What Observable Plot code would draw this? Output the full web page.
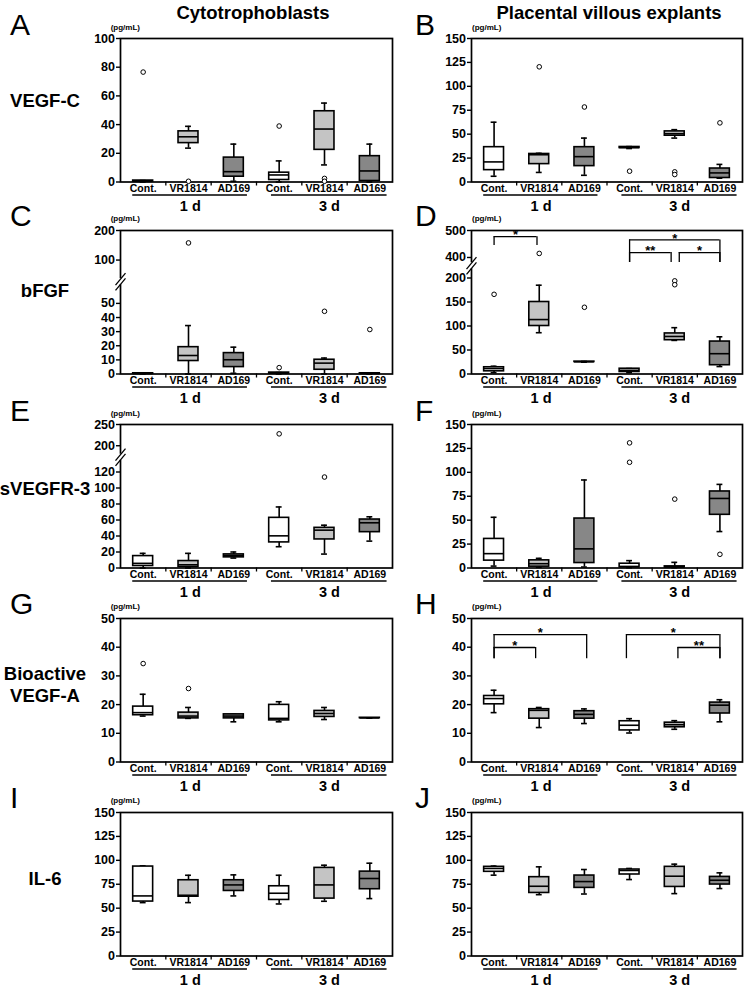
<!DOCTYPE html>
<html>
<head>
<meta charset="utf-8">
<script src="https://cdn.jsdelivr.net/npm/d3@7"></script>
<script src="https://cdn.jsdelivr.net/npm/@observablehq/plot@0.6"></script>
<style>
html,body{margin:0;padding:0;background:#fff;}
#root{position:relative;width:750px;height:988px;overflow:hidden;font-family:"Liberation Sans",Arial,Helvetica,sans-serif;}
#root > svg{position:absolute;}
</style>
</head>
<body>
<div id="root"></div>
<script>
// ---------- categories ----------
const treatments = ["Cont.", "VR1814", "AD169"];
const days = ["1 d", "3 d"];
const colTitles = ["Cytotrophoblasts", "Placental villous explants"];
const rowLabels = [["VEGF-C"], ["bFGF"], ["sVEGFR-3"], ["Bioactive", "VEGF-A"], ["IL-6"]];
const panelLetters = ["A", "B", "C", "D", "E", "F", "G", "H", "I", "J"];
const unitLabel = "(pg/mL)";
const FILL = {"Cont.": "#ffffff", "VR1814": "#c4c4c4", "AD169": "#878787"};

// ---------- box statistics: [lowWhisker, Q1, median, Q3, highWhisker] per group ----------
// order: Cont.1d, VR1814 1d, AD169 1d, Cont.3d, VR1814 3d, AD169 3d
const A_stats = [[0,0.3,0.5,1,1],[23.6,27.1,31.5,35.3,38.8],[0.5,3.7,7.2,17,26.4],[0,1.4,4.9,6.5,14.7],[11.9,22.4,36.9,49.3,55],[0,0.7,7.7,18,26.4]];
const A_out = [[76.6],[0.5],[],[39],[2.5,0.5],[]];
const B_stats = [[6,12.4,21,36.4,62.5],[10,18.7,28.5,29.3,30],[7,16.6,26.5,36.4,45.9],[35,35.5,36,36.6,37],[45.9,48.4,50.5,52.9,54.7],[4,4.2,9.5,14.1,18.4]];
const B_out = [[],[120.4],[78.4],[11.3],[10.6,7.8],[61.8]];
const C_stats = [[0,0.2,0.3,0.5,0.5],[0,9.2,13.1,19,34.3],[0.5,4.9,10.1,14.8,19],[0,0.4,0.6,1,1],[0,3,7.7,10.1,11.3],[0,0.2,0.3,0.5,0.5]];
const C_out = [[],[158],[],[4.5],[44.4],[31.5]];
const D_stats = [[2.8,5.6,11.3,14,16.2],[86,100,113.4,150,185],[24.6,25,25.4,25.8,26.2],[2.8,4.2,7.7,11,11.3],[70,70.4,78.2,84.5,96.5],[15.5,18.3,42.3,67.6,77.5]];
const D_out = [[166],[415],[139],[],[194,186],[]];
const E_stats = [[0,2.5,5.8,14.9,18.3],[0,1.2,4,8.7,18.3],[12.4,13.3,15.4,17,20],[26.6,32,40.2,62.7,76.3],[17.4,35.7,47.3,50.2,53.5],[33.6,44.8,56.5,60.6,64]];
const E_out = [[],[],[],[228],[113.7],[]];
const F_stats = [[2,7.7,15,30.4,53],[0.7,1.4,4.5,8,10.1],[1,5.2,20,51.7,92],[0.3,1,1.4,4.5,7.7],[0.3,0.7,1,1.7,5.9],[38.1,55.6,72.7,80,87.4]];
const F_out = [[],[],[],[130.8,110.5],[72],[14.3]];
const G_stats = [[16,16.3,17.2,19.3,23.6],[15.2,15.2,16,17.2,19],[14,15.2,16,16.6,16.6],[14,14.5,15.2,19.9,21],[14.8,15.7,16.9,17.8,19],[15.3,15.3,15.35,15.4,15.4]];
const G_out = [[34.3],[25.6],[],[],[],[]];
const H_stats = [[17.2,20.1,22.1,23,25],[12,15.1,18,18.4,19],[13.4,15.1,16.6,17.7,18.5],[10.1,11,12.8,14.2,15.1],[11.4,12.1,13,13.7,14.4],[14,16.9,19.8,20.7,21.7]];
const H_out = [[],[],[],[],[],[]];
const I_stats = [[55.8,56.9,62.8,93.5,94.2],[55.8,62,63.5,79.2,84.4],[62.8,68,74.3,79.2,84.8],[54.4,58.6,65.6,72.9,84.4],[57.2,60,74.3,92.1,94.9],[60,69.8,81,88.2,97]];
const I_out = [[],[],[],[],[],[]];
const J_stats = [[84.5,88,91.5,93.2,94],[64.1,65.9,72.9,82.4,93.2],[64.8,71.2,77.8,84.1,90.4],[79.9,85.2,89.4,90.4,91.5],[65.2,72.2,83.4,93.2,96],[70.5,74.7,79.2,82.7,86.9]];
const J_out = [[],[],[],[],[],[]];

// ---------- y tick labels ----------
const A_ticks = [0,20,40,60,80,100];
const B_ticks = [0,25,50,75,100,125,150];
const C_ticks = [0,10,20,30,40,50,100,200];
const D_ticks = [0,50,100,150,200,400,500];
const E_ticks = [0,20,40,60,80,100,120,200,250];
const F_ticks = [0,25,50,75,100,125,150];
const G_ticks = [0,10,20,30,40,50];
const H_ticks = [0,10,20,30,40,50];
const I_ticks = [0,25,50,75,100,125,150];
const J_ticks = [0,25,50,75,100,125,150];

// ---------- significance brackets (group index from/to, bracket level, leg end, label) ----------
const D_sig = [
  {a: 0, b: 0.95, y: 477, leg: 444, s: "*"},
  {a: 3, b: 5, y: 465, leg: 351, s: "*"},
  {a: 3, b: 3.92, y: 418, leg: 351, s: "**"},
  {a: 4.1, b: 5, y: 418, leg: 351, s: "*"}
];
const H_sig = [
  {a: 0, b: 0.92, y: 39.9, leg: 36, s: "*"},
  {a: 0, b: 2.05, y: 44.4, leg: 36, s: "*"},
  {a: 2.93, b: 5, y: 44.4, leg: 36, s: "*"},
  {a: 4.07, b: 5, y: 39.9, leg: 36, s: "**"}
];

const panels = [
  {stats: A_stats, out: A_out, ticks: A_ticks, domain: [0,100]},
  {stats: B_stats, out: B_out, ticks: B_ticks, domain: [0,150]},
  {stats: C_stats, out: C_out, ticks: C_ticks, domain: [0,50,100,200], fracs: [0,0.492,0.794,1], brk: 75},
  {stats: D_stats, out: D_out, ticks: D_ticks, domain: [0,200,400,500], fracs: [0,0.669,0.812,1], brk: 319, sig: D_sig},
  {stats: E_stats, out: E_out, ticks: E_ticks, domain: [0,120,200,250], fracs: [0,0.669,0.852,1], brk: 165},
  {stats: F_stats, out: F_out, ticks: F_ticks, domain: [0,150]},
  {stats: G_stats, out: G_out, ticks: G_ticks, domain: [0,50]},
  {stats: H_stats, out: H_out, ticks: H_ticks, domain: [0,50], sig: H_sig},
  {stats: I_stats, out: I_out, ticks: I_ticks, domain: [0,150]},
  {stats: J_stats, out: J_out, ticks: J_ticks, domain: [0,150]}
];

// ---------- layout ----------
const FONT = '"Liberation Sans", Arial, Helvetica, sans-serif';
const rowTop = [38.3, 229.5, 424, 617.7, 811.7];
const colLeft = [120, 471];
const colWidth = [272, 271];
const FH = 143.5;
const mL = 40, mR = 4, mT = 8, mB = 40;

const root = document.getElementById("root");
const overlay = d3.select(root).append("svg")
  .attr("width", 750).attr("height", 988)
  .style("left", "0px").style("top", "0px")
  .attr("font-family", FONT);

// column titles
[[253, colTitles[0]], [609, colTitles[1]]].forEach(([x, t]) => {
  overlay.append("text").attr("x", x).attr("y", 19).attr("text-anchor", "middle")
    .attr("font-size", 18.5).attr("font-weight", "bold").text(t);
});
// row labels
const rowLabelY = [100, 290.5, 488, 673, 878];
rowLabels.forEach((lines, r) => {
  lines.forEach((t, k) => {
    const cy = lines.length === 1 ? rowLabelY[r] : rowLabelY[r] + k * 22;
    overlay.append("text").attr("x", 45).attr("y", cy + 6.5).attr("text-anchor", "middle")
      .attr("font-size", 18.5).attr("font-weight", "bold").text(t);
  });
});
// panel letters and unit labels
panelLetters.forEach((L, k) => {
  const r = Math.floor(k / 2), c = k % 2;
  overlay.append("text").attr("x", c === 0 ? 10 : 415).attr("y", rowTop[r] - 3.5)
    .attr("font-size", 30).text(L);
  overlay.append("text")
    .attr("x", c === 0 ? 140 : 472).attr("y", rowTop[r] - 8.5)
    .attr("text-anchor", c === 0 ? "end" : "start")
    .attr("font-size", 8).attr("font-weight", "bold").text(unitLabel);
});

function makePanel(p, k) {
  const r = Math.floor(k / 2), c = k % 2;
  const fw = colWidth[c];
  const width = mL + fw + mR, height = mT + FH + mB;
  const bottom = mT + FH;
  const fr = p.fracs || [0, 1];
  const yOpts = {type: "linear", domain: p.domain, range: fr.map(f => bottom - f * FH)};
  const ys = Plot.scale({y: yOpts});
  const px2v = (py) => ys.invert(py);
  const y0 = p.domain[0];

  const boxes = p.stats.map((s, i) => ({i, lo: s[0], q1: s[1], med: s[2], q3: s[3], hi: s[4], fill: FILL[treatments[i % 3]]}));
  const outs = p.out.flatMap((arr, i) => arr.map(v => ({i, v})));
  const cats = days.flatMap(d => treatments.map(t => ({t, d})));
  const groups = days.map((d, g) => ({label: d, g}));
  const BW = 0.22, CW = 0.065, SW = 1.6;
  const cx = d => d.i + 0.5;

  const marks = [
    Plot.frame({stroke: "#000", strokeWidth: 1.7})
  ];
  if (p.brk !== undefined) {
    const py = ys.apply(p.brk);
    marks.push(Plot.ruleX([p.brk], {x: () => 0, y1: () => px2v(py + 3), y2: () => px2v(py - 3), stroke: "#fff", strokeWidth: 5}));
    marks.push(Plot.link([-2.6, 2.6], {
      x1: () => -0.11, x2: () => 0.11,
      y1: off => px2v(py + 6 + off), y2: off => px2v(py - 6 + off),
      stroke: "#000", strokeWidth: 1.3
    }));
  }
  marks.push(
    // whiskers
    Plot.ruleX(boxes, {x: cx, y1: "lo", y2: "q1", stroke: "#000", strokeWidth: SW}),
    Plot.ruleX(boxes, {x: cx, y1: "q3", y2: "hi", stroke: "#000", strokeWidth: SW}),
    Plot.ruleY(boxes, {y: "lo", x1: d => cx(d) - CW, x2: d => cx(d) + CW, stroke: "#000", strokeWidth: SW}),
    Plot.ruleY(boxes, {y: "hi", x1: d => cx(d) - CW, x2: d => cx(d) + CW, stroke: "#000", strokeWidth: SW}),
    // boxes
    Plot.rect(boxes, {x1: d => cx(d) - BW, x2: d => cx(d) + BW, y1: "q1", y2: "q3", fill: "fill", stroke: "#000", strokeWidth: SW}),
    // medians
    Plot.ruleY(boxes, {y: "med", x1: d => cx(d) - BW, x2: d => cx(d) + BW, stroke: "#000", strokeWidth: SW}),
    // outliers
    Plot.dot(outs, {x: cx, y: "v", r: 2.3, stroke: "#000", fill: "#fff", strokeWidth: 1})
  );
  if (p.sig) {
    marks.push(
      Plot.ruleY(p.sig, {y: "y", x1: d => d.a + 0.5, x2: d => d.b + 0.5, stroke: "#000", strokeWidth: 1.3}),
      Plot.ruleX(p.sig, {x: d => d.a + 0.5, y1: "leg", y2: "y", stroke: "#000", strokeWidth: 1.3}),
      Plot.ruleX(p.sig, {x: d => d.b + 0.5, y1: "leg", y2: "y", stroke: "#000", strokeWidth: 1.3}),
      Plot.text(p.sig, {x: d => (d.a + d.b) / 2 + 0.5, y: "y", text: "s", dy: -1.5, fontSize: 13, fontWeight: "bold"})
    );
  }
  marks.push(
    Plot.axisY({ticks: p.ticks, tickSize: 4, tickPadding: 1.5, tickFormat: d => String(d), fontSize: "12.5px", fontWeight: "bold", strokeWidth: 1.4, label: null}),
    Plot.axisX({ticks: cats.map((d, i) => i + 0.5), tickSize: 0, tickPadding: 2.5, tickFormat: v => cats[Math.floor(v)].t, fontSize: "10.5px", fontWeight: "bold", label: null}),
    Plot.axisX({ticks: [1, 2, 3, 4, 5], tickSize: 4, tickFormat: () => "", strokeWidth: 1.3, label: null}),
    // group underlines
    Plot.ruleY(groups, {y: () => y0, x1: d => d.g * 3 + 0.27 + d.g * 0.06, x2: d => d.g * 3 + 2.8 + d.g * 0.08, dy: 13, stroke: "#000", strokeWidth: 1.6}),
    Plot.text(groups, {x: d => d.g * 3 + 1.54 + d.g * 0.07, y: () => y0, text: "label", dy: 24, fontSize: 14.5, fontWeight: "bold"})
  );

  const svg = Plot.plot({
    width, height,
    marginLeft: mL, marginRight: mR, marginTop: mT, marginBottom: mB,
    x: {type: "linear", domain: [0, 6]},
    y: yOpts,
    color: {type: "identity"},
    style: {fontFamily: FONT, fontSize: "12px", fontWeight: "bold", color: "#000", background: "transparent", overflow: "visible"},
    marks
  });
  svg.style.position = "absolute";
  svg.style.left = (colLeft[c] - mL) + "px";
  svg.style.top = (rowTop[r] - mT) + "px";
  root.appendChild(svg);
}

panels.forEach(makePanel);
</script>
</body>
</html>
